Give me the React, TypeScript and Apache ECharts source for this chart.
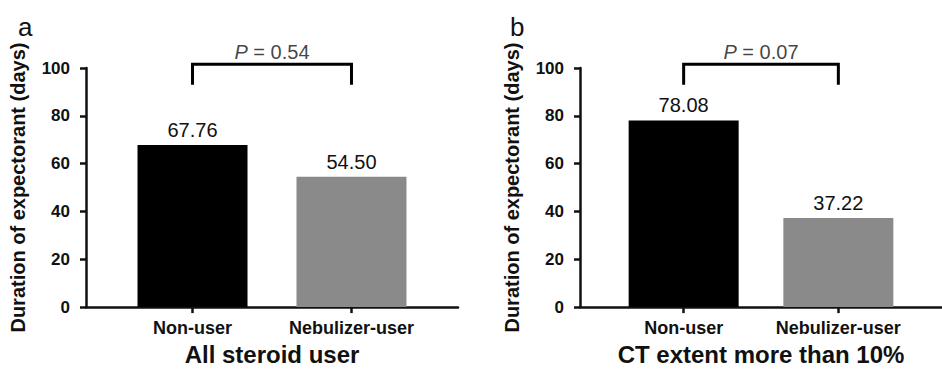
import React, { useEffect, useRef } from "react";
import * as echarts from "echarts";

const categories = ["Non-user", "Nebulizer-user"];
const panelAValues = [67.76, 54.5];
const panelBValues = [78.08, 37.22];
const pValues = ["0.54", "0.07"];
const panelTitles = ["All steroid user", "CT extent more than 10%"];
const panelLetters = ["a", "b"];
const yAxisTitle = "Duration of expectorant (days)";
const barColors = ["#000000", "#8a8a8a"];
const bracketLow = 93;
const bracketHigh = 101.6;
const pLabelLevel = 106.6;

const FONT = "Liberation Sans, Arial, Helvetica, sans-serif";

export default function App() {
  const ref = useRef<HTMLDivElement>(null);
  useEffect(() => {
    if (!ref.current) return;
    const chart = echarts.init(ref.current, null, { renderer: "svg" });
    const panels = [panelAValues, panelBValues];
    const gridLefts = [86, 580];

    const grids = gridLefts.map((l) => ({ left: l, top: 68, width: 372, height: 246, containLabel: false }));
    const xAxes = panels.map((_, i) => ({
      type: "value",
      gridIndex: i,
      min: -0.67,
      max: 1.67,
      name: panelTitles[i],
      nameLocation: "middle",
      nameGap: 33,
      nameTextStyle: { fontFamily: FONT, fontSize: 24, fontWeight: "bold", color: "#111" },
      splitLine: { show: false },
      axisLine: { show: true, onZero: false, lineStyle: { color: "#111", width: 2.5 } },
      axisTick: { show: true, customValues: [0, 1], length: 6, lineStyle: { color: "#111", width: 2.5 } },
      axisLabel: {
        show: true,
        customValues: [0, 1],
        margin: 12,
        fontFamily: FONT,
        fontSize: 18,
        fontWeight: "bold",
        color: "#111",
        formatter: (v: number) => categories[Math.round(v)] ?? "",
      },
    }));
    const yAxes = panels.map((_, i) => ({
      type: "value",
      gridIndex: i,
      min: 0,
      max: 100,
      interval: 20,
      name: yAxisTitle,
      nameLocation: "middle",
      nameRotate: 90,
      nameGap: 58,
      nameTextStyle: { fontFamily: FONT, fontSize: 20, fontWeight: "bold", color: "#111" },
      splitLine: { show: false },
      axisLine: { show: true, onZero: false, lineStyle: { color: "#111", width: 2.5 } },
      axisTick: { show: true, length: 6, lineStyle: { color: "#111", width: 2.5 } },
      axisLabel: { margin: 16, fontFamily: FONT, fontSize: 17, fontWeight: "bold", color: "#111" },
    }));

    const series: any[] = [];
    panels.forEach((vals, i) => {
      series.push({
        type: "bar",
        xAxisIndex: i,
        yAxisIndex: i,
        barWidth: 110,
        data: vals.map((v, k) => ({ value: [k, v], itemStyle: { color: barColors[k] } })),
        label: {
          show: true,
          position: "top",
          distance: 5,
          fontFamily: FONT,
          fontSize: 20,
          color: "#111",
          formatter: (p: any) => p.value[1].toFixed(2),
        },
      });
      series.push({
        type: "custom",
        xAxisIndex: i,
        yAxisIndex: i,
        clip: false,
        data: [[0, 1, bracketLow, bracketHigh]],
        renderItem: (params: any, api: any) => {
          const a = api.coord([api.value(0), api.value(2)]);
          const b = api.coord([api.value(0), api.value(3)]);
          const c = api.coord([api.value(1), api.value(3)]);
          const d = api.coord([api.value(1), api.value(2)]);
          return {
            type: "polyline",
            shape: { points: [a, b, c, d] },
            style: { stroke: "#000", lineWidth: 3, fill: null },
          };
        },
      });
      series.push({
        type: "scatter",
        xAxisIndex: i,
        yAxisIndex: i,
        clip: false,
        symbolSize: 1,
        itemStyle: { color: "rgba(0,0,0,0)" },
        data: [[0.5, pLabelLevel]],
        label: {
          show: true,
          position: "inside",
          fontFamily: FONT,
          fontSize: 20,
          color: "#111",
          formatter: "{i|P} = " + pValues[i],
          rich: { i: { fontStyle: "italic", fontFamily: FONT, fontSize: 20, color: "#111" } },
        },
      });
    });

    chart.setOption({
      animation: false,
      backgroundColor: "#ffffff",
      title: panelLetters.map((t, i) => ({
        text: t,
        left: [13, 505][i],
        top: 9,
        textStyle: { fontFamily: FONT, fontSize: 26, fontWeight: "normal", color: "#111" },
      })),
      grid: grids,
      xAxis: xAxes,
      yAxis: yAxes,
      series,
    });
    return () => chart.dispose();
  }, []);
  return <div ref={ref} style={{ position: "fixed", left: 0, top: 0, width: 942, height: 371 }} />;
}
